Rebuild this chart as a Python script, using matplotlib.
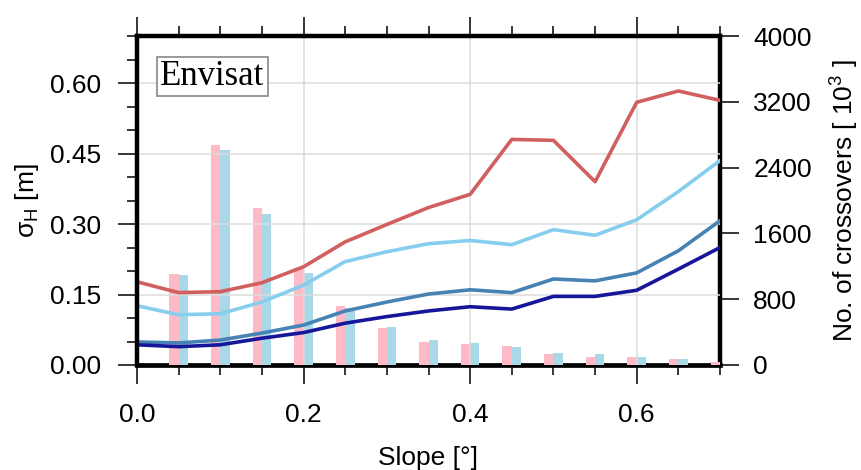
import matplotlib
matplotlib.use("Agg")
import matplotlib.pyplot as plt
import numpy as np
from matplotlib.ticker import MultipleLocator, FixedLocator

plt.rcParams['font.family'] = ['Liberation Sans', 'DejaVu Sans']
plt.rcParams['mathtext.fontset'] = 'custom'
plt.rcParams['mathtext.rm'] = 'Liberation Sans'
plt.rcParams['mathtext.it'] = 'Liberation Sans:italic'

# ---- data ----
slope = [0.0, 0.05, 0.10, 0.15, 0.20, 0.25, 0.30, 0.35, 0.40, 0.45, 0.50, 0.55, 0.60, 0.65, 0.70]
sigma_red = [0.177, 0.154, 0.156, 0.175, 0.209, 0.262, 0.299, 0.335, 0.363, 0.480, 0.478, 0.390, 0.559, 0.583, 0.563]
sigma_sky = [0.126, 0.107, 0.109, 0.134, 0.170, 0.220, 0.241, 0.258, 0.265, 0.256, 0.288, 0.276, 0.309, 0.369, 0.435]
sigma_steel = [0.049, 0.047, 0.053, 0.068, 0.085, 0.115, 0.134, 0.151, 0.160, 0.154, 0.183, 0.179, 0.196, 0.243, 0.307]
sigma_navy = [0.043, 0.039, 0.043, 0.057, 0.069, 0.089, 0.103, 0.115, 0.124, 0.119, 0.146, 0.146, 0.159, 0.204, 0.250]

bar_slope = [0.05, 0.10, 0.15, 0.20, 0.25, 0.30, 0.35, 0.40, 0.45, 0.50, 0.55, 0.60, 0.65, 0.70]
count_pink = [1110, 2680, 1910, 1184, 713, 447, 278, 254, 230, 133, 97, 97, 72, 36]
count_blue = [1100, 2620, 1836, 1123, 689, 459, 302, 266, 217, 145, 133, 97, 72, 30]

x_ticks = [0.0, 0.2, 0.4, 0.6]
x_ticklabels = ['0.0', '0.2', '0.4', '0.6']
y_ticks = [0.0, 0.15, 0.30, 0.45, 0.60]
y_ticklabels = ['0.00', '0.15', '0.30', '0.45', '0.60']
y2_ticks = [0, 800, 1600, 2400, 3200, 4000]

fig = plt.figure(figsize=(8.61, 4.70), dpi=100)
ax1 = fig.add_axes([137/861, 105/470, 583/861, 329/470])
ax2 = ax1.twinx()
ax1.set_zorder(ax2.get_zorder() + 1)
ax1.patch.set_visible(False)

# bars on right axis
w = 0.0112
bx = np.array(bar_slope)
ax2.bar(bx - w/2, count_pink, width=w, color='#ffbac8', zorder=3, linewidth=0)
ax2.bar(bx + w/2, count_blue, width=w, color='#a9d8e6', zorder=3, linewidth=0)
ax2.set_ylim(0, 4000)
ax2.set_xlim(0, 0.7)
ax2.yaxis.set_major_locator(FixedLocator(y2_ticks))
ax2.tick_params(axis='y', which='major', direction='out', length=14, width=1.1,
                labelsize=19, pad=10)
ax2.set_ylabel('No. of crossovers [ 10$^3$ ]', fontsize=19, labelpad=12)
for s in ['left', 'top']:
    ax2.spines[s].set_visible(False)
ax2.spines['bottom'].set_linewidth(3.4)
ax2.spines['bottom'].set_color('black')
ax2.spines['right'].set_linewidth(3.2)
ax2.spines['bottom'].set_zorder(2)

# lines on left axis
ax1.plot(slope, sigma_red, color='#d15f5f', lw=2.6)
ax1.plot(slope, sigma_sky, color='#87cdee', lw=2.6)
ax1.plot(slope, sigma_steel, color='#4682b4', lw=2.6)
ax1.plot(slope, sigma_navy, color='#16169a', lw=2.6)

ax1.set_xlim(0, 0.7)
ax1.set_ylim(0, 0.7)
ax1.xaxis.set_major_locator(FixedLocator(x_ticks))
ax1.xaxis.set_minor_locator(MultipleLocator(0.05))
ax1.yaxis.set_major_locator(FixedLocator(y_ticks))
ax1.yaxis.set_minor_locator(MultipleLocator(0.05))
ax1.set_yticklabels(y_ticklabels)
ax1.set_xticklabels(x_ticklabels)
ax1.tick_params(axis='both', which='major', direction='out', length=14, width=1.1,
                labelsize=19, pad=12, top=True)
ax1.tick_params(axis='both', which='minor', direction='out', length=7, width=1.1, top=True)
ax1.tick_params(axis='x', which='major', pad=13)
ax1.grid(True, which='major', color='#dddddd', lw=1.1)
ax1.set_axisbelow(True)
for s in ['left', 'top']:
    ax1.spines[s].set_linewidth(3.2)
ax1.spines['bottom'].set_visible(False)
ax1.spines['right'].set_visible(False)

ax1.set_xlabel('Slope [°]', fontsize=19, labelpad=14)
ax1.set_ylabel(r'σ$_{\mathrm{H}}$ [m]', fontsize=19, labelpad=6)

ax1.text(0.04, 0.851, 'Envisat', transform=ax1.transAxes, fontsize=25,
         family='Liberation Serif', va='baseline', ha='left',
         bbox=dict(boxstyle='square,pad=0.1', fc='white', ec='#888888', lw=1.2))

# hide grid lines that coincide with the axis frame
fig.canvas.draw()
for tick in ax1.yaxis.get_major_ticks():
    if abs(tick.get_loc()) < 1e-9:
        tick.gridline.set_visible(False)
for tick in ax1.xaxis.get_major_ticks():
    if abs(tick.get_loc()) < 1e-9:
        tick.gridline.set_visible(False)

fig.savefig('out.png', dpi=100)
